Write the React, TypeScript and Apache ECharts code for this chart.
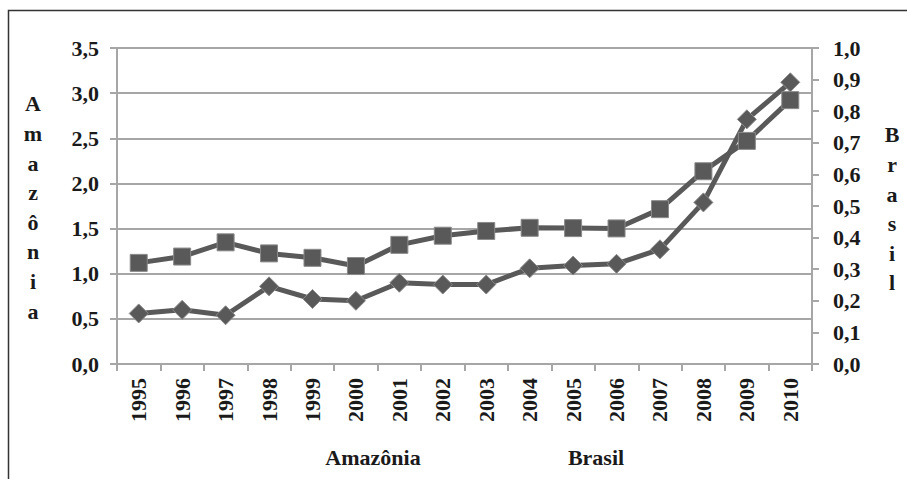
import React, { useEffect, useRef } from "react";
import * as echarts from "echarts";

const years = ["1995","1996","1997","1998","1999","2000","2001","2002","2003","2004","2005","2006","2007","2008","2009","2010"];
const amazonia = [0.56, 0.60, 0.54, 0.86, 0.72, 0.70, 0.90, 0.88, 0.88, 1.06, 1.09, 1.11, 1.27, 1.79, 2.71, 3.12];
const brasil = [0.32, 0.34, 0.385, 0.35, 0.336, 0.31, 0.377, 0.406, 0.421, 0.431, 0.43, 0.429, 0.49, 0.61, 0.706, 0.835];
const seriesNames = ["Amazônia", "Brasil"];

const FONT = "'Liberation Serif', 'Times New Roman', serif";
const GRAY = "#a6a6a6";
const LINE = "#595959";
const TXT = "#1a1a1a";
const FS = 22;

export default function App() {
  const ref = useRef<HTMLDivElement>(null);
  useEffect(() => {
    document.body.style.margin = "0";
    const chart = echarts.init(ref.current!, null, { renderer: "svg" });
    const fmt = (v: number) => v.toFixed(1).replace(".", ",");
    const labelStyle = { fontFamily: FONT, fontWeight: "bold" as const, fontSize: FS, color: TXT };
    chart.setOption({
      animation: false,
      backgroundColor: "#ffffff",
      grid: { left: 117, right: 95, top: 48, bottom: 115, containLabel: false },
      xAxis: {
        type: "category",
        data: years,
        boundaryGap: true,
        axisLine: { lineStyle: { color: GRAY, width: 2 } },
        axisTick: { show: true, alignWithLabel: false, length: 7, lineStyle: { color: GRAY, width: 2 } },
        axisLabel: { ...labelStyle, rotate: 90, margin: 14, interval: 0 },
      },
      yAxis: [
        {
          type: "value", min: 0, max: 3.5, interval: 0.5, position: "left",
          axisLine: { show: true, lineStyle: { color: GRAY, width: 2 } },
          axisTick: { show: true, length: 7, lineStyle: { color: GRAY, width: 2 } },
          splitLine: { show: true, lineStyle: { color: GRAY, width: 2 } },
          axisLabel: { ...labelStyle, margin: 18, formatter: fmt },
        },
        {
          type: "value", min: 0, max: 1, interval: 0.1, position: "right",
          axisLine: { show: true, lineStyle: { color: GRAY, width: 2 } },
          axisTick: { show: true, length: 7, lineStyle: { color: GRAY, width: 2 } },
          splitLine: { show: false },
          axisLabel: { ...labelStyle, margin: 21, formatter: fmt },
        },
      ],
      series: [
        {
          name: seriesNames[0], type: "line", yAxisIndex: 0, data: amazonia,
          symbol: "diamond", symbolSize: 19,
          lineStyle: { color: LINE, width: 5 },
          itemStyle: { color: LINE, borderColor: "#8a8a8a", borderWidth: 1 },
          z: 2,
        },
        {
          name: seriesNames[1], type: "line", yAxisIndex: 1, data: brasil,
          symbol: "rect", symbolSize: 17,
          lineStyle: { color: LINE, width: 5 },
          itemStyle: { color: LINE, borderColor: "#8a8a8a", borderWidth: 1 },
          z: 3,
        },
      ],
      graphic: [
        {
          type: "rect", silent: true, z: -1,
          shape: { x: 8.5, y: 10.5, width: 1200, height: 1200 },
          style: { fill: "none", stroke: "#333333", lineWidth: 1.5 },
        },
        {
          type: "text", x: 33, y: 89,
          style: { text: "Amazônia".split("").join("\n"), font: `bold ${FS}px ${FONT}`, fill: TXT, align: "center", lineHeight: 29.6 },
        },
        {
          type: "text", x: 892, y: 120,
          style: { text: "Brasil".split("").join("\n"), font: `bold ${FS}px ${FONT}`, fill: TXT, align: "center", lineHeight: 29.6 },
        },
        {
          type: "text", x: 373, y: 446,
          style: { text: seriesNames[0], font: `bold ${FS}px ${FONT}`, fill: TXT, align: "center" },
        },
        {
          type: "text", x: 596, y: 446,
          style: { text: seriesNames[1], font: `bold ${FS}px ${FONT}`, fill: TXT, align: "center" },
        },
      ],
    });
    return () => chart.dispose();
  }, []);
  return <div ref={ref} style={{ width: 907, height: 479 }} />;
}
